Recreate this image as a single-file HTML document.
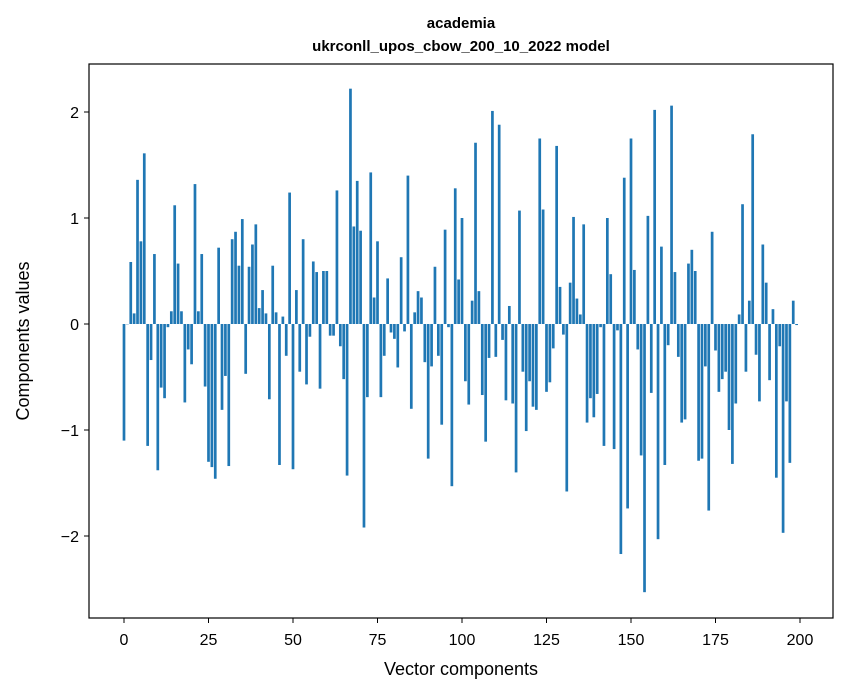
<!DOCTYPE html>
<html><head><meta charset="utf-8"><style>
body{margin:0;background:#fff}
svg{display:block;font-family:"Liberation Sans","DejaVu Sans",sans-serif}
</style></head><body>
<svg id="chart" width="847" height="696" viewBox="0 0 847 696">
<rect width="847" height="696" fill="#fff"/>
<text x="461" y="28" text-anchor="middle" font-size="15" font-weight="bold">academia</text>
<text x="461" y="51" text-anchor="middle" font-size="15" font-weight="bold">ukrconll_upos_cbow_200_10_2022 model</text>
<g id="bars"></g>
<g id="xticks"></g>
<g id="yticks"></g>
<rect x="89" y="64" width="744" height="554" fill="none" stroke="#000" stroke-width="1.2"/>
<text x="461" y="675" text-anchor="middle" font-size="18">Vector components</text>
<text x="29" y="341" text-anchor="middle" font-size="18" transform="rotate(-90 29 341)">Components values</text>
</svg>
<script>
const values = [
-1.10,0.00,0.585,0.10,1.36,0.78,1.61,-1.15,-0.34,0.66,
-1.38,-0.60,-0.70,-0.03,0.12,1.12,0.57,0.12,-0.74,-0.24,
-0.38,1.32,0.12,0.66,-0.59,-1.30,-1.35,-1.46,0.72,-0.81,
-0.49,-1.34,0.80,0.87,0.55,0.99,-0.47,0.54,0.75,0.94,
0.15,0.32,0.10,-0.71,0.55,0.11,-1.33,0.07,-0.30,1.24,
-1.37,0.32,-0.45,0.80,-0.57,-0.12,0.59,0.49,-0.61,0.50,
0.50,-0.11,-0.11,1.26,-0.21,-0.52,-1.43,2.22,0.92,1.35,
0.88,-1.92,-0.69,1.43,0.25,0.78,-0.69,-0.30,0.43,-0.08,
-0.14,-0.41,0.63,-0.07,1.40,-0.80,0.11,0.31,0.25,-0.36,
-1.27,-0.40,0.54,-0.30,-0.95,0.89,-0.03,-1.53,1.28,0.42,
1.00,-0.54,-0.76,0.22,1.71,0.31,-0.67,-1.11,-0.32,2.01,
-0.31,1.88,-0.15,-0.72,0.17,-0.75,-1.40,1.07,-0.45,-1.01,
-0.54,-0.78,-0.81,1.75,1.08,-0.64,-0.55,-0.23,1.68,0.35,
-0.10,-1.58,0.39,1.01,0.24,0.09,0.94,-0.93,-0.70,-0.88,
-0.66,-0.03,-1.15,1.00,0.47,-1.18,-0.06,-2.17,1.38,-1.74,
1.75,0.51,-0.24,-1.24,-2.53,1.02,-0.65,2.02,-2.03,0.73,
-1.33,-0.20,2.06,0.49,-0.31,-0.93,-0.90,0.57,0.70,0.50,
-1.29,-1.27,-0.40,-1.76,0.87,-0.25,-0.64,-0.52,-0.45,-1.00,
-1.32,-0.75,0.09,1.13,-0.45,0.22,1.79,-0.29,-0.73,0.75,
0.39,-0.53,0.14,-1.45,-0.21,-1.97,-0.73,-1.31,0.22,-0.01
];
const xTicks = [0,25,50,75,100,125,150,175,200];
const yTicks = [-2,-1,0,1,2];
const NS='http://www.w3.org/2000/svg';
const xs = v => 124 + v*3.38;
const ys = v => 324 - v*106;
const bars = document.getElementById('bars');
values.forEach((v,i)=>{
  const r=document.createElementNS(NS,'rect');
  const y0=ys(0), y1=ys(v);
  r.setAttribute('x', xs(i-0.4));
  r.setAttribute('width', 0.8*3.38);
  r.setAttribute('y', Math.min(y0,y1));
  r.setAttribute('height', Math.max(Math.abs(y1-y0),0.3));
  r.setAttribute('fill','#1f77b4');
  
  
  bars.appendChild(r);
});
const xg=document.getElementById('xticks');
xTicks.forEach(t=>{
  const l=document.createElementNS(NS,'line');
  l.setAttribute('x1',xs(t));l.setAttribute('x2',xs(t));
  l.setAttribute('y1',618);l.setAttribute('y2',623);
  l.setAttribute('stroke','#000');
  
  
  xg.appendChild(l);
  const tx=document.createElementNS(NS,'text');
  tx.setAttribute('x',xs(t));tx.setAttribute('y',645);
  tx.setAttribute('text-anchor','middle');tx.setAttribute('font-size','16');
  tx.textContent=t;
  
  
  xg.appendChild(tx);
});
const yg=document.getElementById('yticks');
yTicks.forEach(t=>{
  const l=document.createElementNS(NS,'line');
  l.setAttribute('x1',84);l.setAttribute('x2',89);
  l.setAttribute('y1',ys(t));l.setAttribute('y2',ys(t));
  l.setAttribute('stroke','#000');
  
  
  yg.appendChild(l);
  const tx=document.createElementNS(NS,'text');
  tx.setAttribute('x',79);tx.setAttribute('y',ys(t)+6);
  tx.setAttribute('text-anchor','end');tx.setAttribute('font-size','16');
  tx.textContent=t<0?'\u2212'+Math.abs(t):String(t);
  
  
  yg.appendChild(tx);
});
</script>
</body></html>
